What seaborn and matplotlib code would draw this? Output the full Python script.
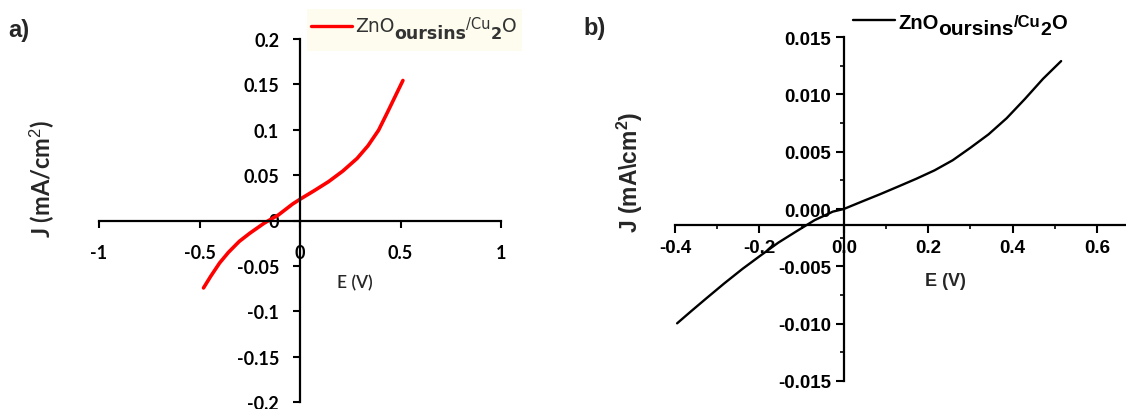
import matplotlib
matplotlib.use("Agg")
import matplotlib.pyplot as plt
import seaborn as sns
import numpy as np
from matplotlib.ticker import MultipleLocator
from matplotlib.lines import Line2D
from matplotlib.patches import Rectangle

# ---- data ----
E_a = [-0.480, -0.444, -0.400, -0.356, -0.302, -0.249, -0.178, -0.107, -0.036, 0.0,
       0.071, 0.142, 0.213, 0.284, 0.338, 0.391, 0.436, 0.480, 0.512]
J_a = [-0.0743, -0.0614, -0.0468, -0.0351, -0.0230, -0.0139, -0.0029, 0.0062, 0.0183, 0.0234,
       0.0329, 0.0428, 0.0545, 0.0684, 0.0823, 0.0995, 0.1196, 0.1397, 0.1543]

E_b = [-0.395, -0.361, -0.326, -0.283, -0.240, -0.197, -0.155, -0.112, -0.069, -0.026, 0.0,
       0.043, 0.086, 0.129, 0.172, 0.215, 0.258, 0.300, 0.343, 0.386, 0.429, 0.472, 0.515]
J_b = [-0.00997, -0.00889, -0.00780, -0.00648, -0.00522, -0.00405, -0.00293, -0.00194, -0.00097,
       -0.00023, 0.0, 0.00065, 0.00129, 0.00196, 0.00264, 0.00337, 0.00425, 0.00534, 0.00651,
       0.00792, 0.00959, 0.01135, 0.01290]

xticks_a = [-1, -0.5, 0, 0.5, 1]
xticklabels_a = ["-1", "-0.5", "0", "0.5", "1"]
yticks_a = [-0.2, -0.15, -0.1, -0.05, 0, 0.05, 0.1, 0.15, 0.2]
yticklabels_a = ["-0.2", "-0.15", "-0.1", "-0.05", "0", "0.05", "0.1", "0.15", "0.2"]

xticks_b = [-0.4, -0.2, 0.0, 0.2, 0.4, 0.6]
xticklabels_b = ["-0.4", "-0.2", "0.0", "0.2", "0.4", "0.6"]
yticks_b = [-0.015, -0.010, -0.005, 0.0, 0.005, 0.010, 0.015]
yticklabels_b = ["-0.015", "-0.010", "-0.005", "0.000", "0.005", "0.010", "0.015"]

# legend label pieces: "ZnO" + sub "oursins" + sup "/Cu" + sub "2" + "O"
legend_parts = [("ZnO", "main"), ("oursins", "sub"), ("/Cu", "sup"), ("2", "sub2"), ("O", "main")]

sns.set_style("white")
plt.rcParams["mathtext.fontset"] = "custom"
plt.rcParams["mathtext.rm"] = "Liberation Sans"
plt.rcParams["mathtext.bf"] = "Liberation Sans:bold"
plt.rcParams["mathtext.it"] = "Liberation Sans:italic"
plt.rcParams["font.family"] = ["Liberation Sans", "DejaVu Sans"]

W, H = 1126, 410
fig = plt.figure(figsize=(W / 100, H / 100), dpi=100)
renderer = fig.canvas.get_renderer()


def place_label(x_px, base_px, styles, color):
    """Write the legend label piece by piece (sub/superscripts at custom size)."""
    x = x_px
    for text, role in legend_parts:
        size, weight, dy, family = styles[role]
        t = fig.text(x / W, 1 - (base_px + dy) / H, text, fontsize=size, fontweight=weight,
                     family=family, color=color, ha="left", va="baseline")
        bb = t.get_window_extent(renderer)
        x += bb.width


# ---------------- panel a ----------------
axa = fig.add_axes([99 / W, 1 - 403 / H, 402 / W, 363 / H])
sns.lineplot(x=E_a, y=J_a, ax=axa, sort=False, color="#ff0000", lw=2.6, legend=False)
for ln in axa.get_lines():
    ln.set_solid_joinstyle("round")
    ln.set_solid_capstyle("round")
axa.set_xlim(-1, 1)
axa.set_ylim(-0.2, 0.2)
for s in ["top", "right"]:
    axa.spines[s].set_visible(False)
axa.spines["left"].set_position(("data", 0))
axa.spines["bottom"].set_position(("data", 0))
for s in ["left", "bottom"]:
    axa.spines[s].set_linewidth(1.6)
    axa.spines[s].set_color("black")
axa.set_xticks(xticks_a)
axa.set_xticklabels(xticklabels_a)
axa.set_yticks(yticks_a)
axa.set_yticklabels(yticklabels_a)
axa.tick_params(axis="both", direction="out", length=5, width=1.5, colors="black",
                bottom=True, left=True)
axa.tick_params(axis="x", pad=12)
axa.tick_params(axis="y", pad=10)
for t in axa.get_xticklabels() + axa.get_yticklabels():
    t.set_fontfamily(["Lato", "DejaVu Sans"])
    t.set_fontweight("bold")
    t.set_fontsize(13)
axa.set_xlabel("")
axa.set_ylabel("")
axa.patch.set_alpha(0)

# legend a (cream box, red handle)
fig.patches.append(Rectangle((307 / W, 1 - 52 / H), 215 / W, 42 / H, transform=fig.transFigure,
                             facecolor="#fdfcee", edgecolor="none", zorder=1))
fig.lines.append(Line2D([311 / W, 352 / W], [1 - 27 / H, 1 - 27 / H], transform=fig.transFigure,
                        color="#ff0000", lw=2.4, zorder=2))
sty_a = {"main": (13.5, "normal", 0, ["DejaVu Sans"]),
         "sub": (12.5, "bold", 7, ["DejaVu Sans"]),
         "sup": (10.5, "normal", -3, ["DejaVu Sans"]),
         "sub2": (11.5, "bold", 7, ["DejaVu Sans"])}
place_label(355, 32, sty_a, "#333333")

fig.text(42 / W, 1 - 179 / H, r"J (mA/cm$^{\mathrm{2}}$)", rotation=90, ha="center", va="center",
         fontsize=17, fontweight="bold", family=["Lato", "DejaVu Sans"])
fig.text(355 / W, 1 - 283 / H, "E (V)", ha="center", va="center", fontsize=12.5,
         family=["Lato", "DejaVu Sans"], fontweight="semibold")
fig.text(8 / W, 1 - 30 / H, "a)", ha="left", va="center", fontsize=17, fontweight="bold")

# ---------------- panel b ----------------
x0b = 675
axb = fig.add_axes([x0b / W, 1 - 382 / H, (W - x0b) / W, 344 / H])
sns.lineplot(x=E_b, y=J_b, ax=axb, sort=False, color="black", lw=1.7, legend=False)
for ln in axb.get_lines():
    ln.set_solid_joinstyle("round")
xr = -0.4 + (W - x0b) / 84.4 * 0.2
axb.set_xlim(-0.4, xr)
axb.set_ylim(-0.015, 0.015)
for s in ["top", "right"]:
    axb.spines[s].set_visible(False)
axb.spines["left"].set_position(("data", 0))
axb.spines["bottom"].set_position(("data", -0.0014))
for s in ["left", "bottom"]:
    axb.spines[s].set_linewidth(1.6)
    axb.spines[s].set_color("black")
axb.set_xticks(xticks_b)
axb.set_xticklabels(xticklabels_b)
axb.set_yticks(yticks_b)
axb.set_yticklabels(yticklabels_b)
axb.xaxis.set_minor_locator(MultipleLocator(0.1))
axb.yaxis.set_minor_locator(MultipleLocator(0.0025))
axb.tick_params(axis="both", which="major", direction="out", length=6, width=1.5, colors="black",
                bottom=True, left=True)
axb.tick_params(axis="both", which="minor", direction="out", length=3, width=1.2, colors="black",
                bottom=True, left=True)
axb.tick_params(axis="x", which="major", pad=4)
axb.tick_params(axis="y", which="major", pad=3)
for t in axb.get_xticklabels() + axb.get_yticklabels():
    t.set_fontweight("bold")
    t.set_fontsize(13.5)
axb.set_xlabel("")
axb.set_ylabel("")
axb.patch.set_alpha(0)

# legend b (no frame, black handle)
fig.lines.append(Line2D([853 / W, 895 / W], [1 - 21 / H, 1 - 21 / H], transform=fig.transFigure,
                        color="black", lw=1.7, zorder=2))
sty_b = {"main": (14.5, "bold", 0, ["Liberation Sans"]),
         "sub": (15, "bold", 6, ["Liberation Sans"]),
         "sup": (12, "bold", -2, ["Liberation Sans"]),
         "sub2": (14, "bold", 6, ["Liberation Sans"])}
place_label(898, 29, sty_b, "black")

fig.text(630 / W, 1 - 172 / H, r"J (mA\cm$^{\mathbf{2}}$)", rotation=90, ha="center", va="center",
         fontsize=16.5, fontweight="bold")
fig.text(945 / W, 1 - 281 / H, "E (V)", ha="center", va="center", fontsize=13, fontweight="bold")
fig.text(583 / W, 1 - 28 / H, "b)", ha="left", va="center", fontsize=17, fontweight="bold")

fig.savefig("out.png", dpi=100)
